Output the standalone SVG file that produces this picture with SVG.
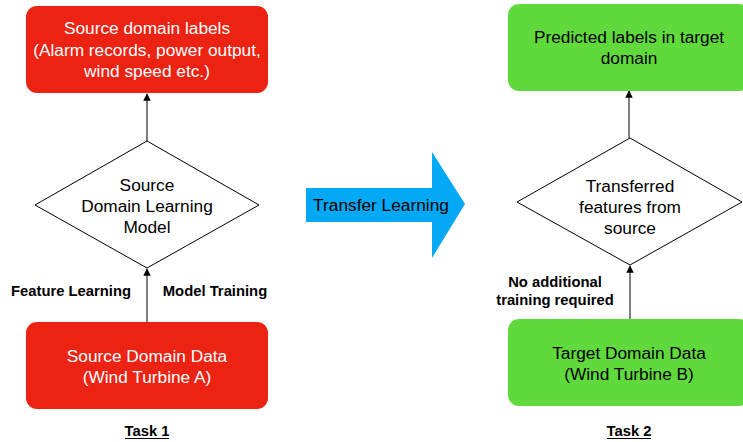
<svg xmlns="http://www.w3.org/2000/svg" width="743" height="442" viewBox="0 0 743 442">
<style>
.red{fill:#EC2312;}
.green{fill:#5FD93B;}
.dia{fill:#fff;stroke:#000;stroke-width:1;}
.w{fill:#fff;font-family:"Liberation Sans",Arial,sans-serif;font-size:17.3px;text-anchor:middle;}
.k{fill:#000;font-family:"Liberation Sans",Arial,sans-serif;font-size:17.3px;text-anchor:middle;}
.b{fill:#000;font-family:"Liberation Sans",Arial,sans-serif;font-size:14.8px;font-weight:bold;text-anchor:middle;}
.con{stroke:#555;stroke-width:1.5;fill:none;marker-end:url(#ah);}
</style>
<defs>
<marker id="ah" viewBox="0 0 10 10" refX="9" refY="5" markerWidth="5" markerHeight="5" orient="auto">
<path d="M0,0 L10,5 L0,10 z" fill="#000"/>
</marker>
</defs>
<rect width="743" height="442" fill="#fff"/>
<g id="connectors">
<line class="con" x1="147" y1="141" x2="147" y2="94"/>
<line class="con" x1="147" y1="322" x2="147" y2="269"/>
<line class="con" x1="629" y1="138" x2="629" y2="91"/>
<line class="con" x1="630" y1="319" x2="630" y2="266"/>
</g>
<g id="src-labels">
<rect class="red" x="26" y="6" width="242" height="87" rx="11"/>
<text class="w" x="147" y="34">Source domain labels</text>
<text class="w" x="147" y="56">(Alarm records, power output,</text>
<text class="w" x="147" y="77">wind speed etc.)</text>
</g>
<g id="src-model">
<polygon class="dia" points="147,141 259,205 147,268 35,205"/>
<text class="k" x="147" y="191">Source</text>
<text class="k" x="147" y="212">Domain Learning</text>
<text class="k" x="147" y="233">Model</text>
</g>
<g id="src-edge-labels">
<text class="b" x="71" y="296">Feature Learning</text>
<text class="b" x="215" y="296">Model Training</text>
</g>
<g id="src-data">
<rect class="red" x="26" y="322" width="242" height="87" rx="11"/>
<text class="w" x="147" y="362">Source Domain Data</text>
<text class="w" x="147" y="383">(Wind Turbine A)</text>
</g>
<g id="task1">
<text class="b" x="147" y="436">Task 1</text>
<line x1="125" y1="438.5" x2="169" y2="438.5" stroke="#000" stroke-width="1"/>
</g>
<g id="transfer">
<polygon fill="#03A9F4" points="306,188 432,188 432,152 465,204 432,258 432,222 306,222"/>
<text class="k" x="381" y="211">Transfer Learning</text>
</g>
<g id="tgt-labels">
<rect class="green" x="508" y="4" width="242" height="87" rx="11"/>
<text class="k" x="629" y="43">Predicted labels in target</text>
<text class="k" x="629" y="64">domain</text>
</g>
<g id="tgt-model">
<polygon class="dia" points="630,138 742,202 630,265 517,202"/>
<text class="k" x="630" y="192">Transferred</text>
<text class="k" x="630" y="213">features from</text>
<text class="k" x="630" y="234">source</text>
</g>
<g id="tgt-edge-label">
<text class="b" x="555" y="287">No additional</text>
<text class="b" x="555" y="305">training required</text>
</g>
<g id="tgt-data">
<rect class="green" x="508" y="319" width="242" height="87" rx="11"/>
<text class="k" x="629" y="359">Target Domain Data</text>
<text class="k" x="629" y="380">(Wind Turbine B)</text>
</g>
<g id="task2">
<text class="b" x="629" y="436">Task 2</text>
<line x1="607" y1="438.5" x2="651" y2="438.5" stroke="#000" stroke-width="1"/>
</g>
</svg>
